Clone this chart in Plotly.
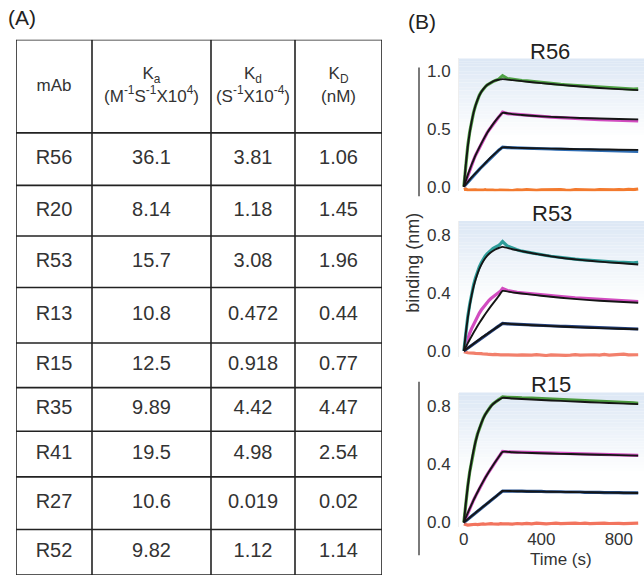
import plotly.graph_objects as go

# ---------------- table data ----------------
HEADERS = ["mAb",
           "K<sub>a</sub><br>(M<sup>-1</sup>S<sup>-1</sup>X10<sup>4</sup>)",
           "K<sub>d</sub><br>(S<sup>-1</sup>X10<sup>-4</sup>)",
           "K<sub>D</sub><br>(nM)"]
MABS = ["R56", "R20", "R53", "R13", "R15", "R35", "R41", "R27", "R52"]
KA = ["36.1", "8.14", "15.7", "10.8", "12.5", "9.89", "19.5", "10.6", "9.82"]
KD = ["3.81", "1.18", "3.08", "0.472", "0.918", "4.42", "4.98", "0.019", "1.12"]
KDISS = ["1.06", "1.45", "1.96", "0.44", "0.77", "4.47", "2.54", "0.02", "1.14"]

# ---------------- sensorgram data ----------------
T = [0, 10, 20, 30, 40, 50, 60, 70, 80, 90, 100, 110, 120, 130, 140, 150, 160, 170, 180, 190, 200,
     225, 250, 275, 300, 325, 350, 375, 400, 425, 450, 475, 500, 525, 550, 575, 600, 625, 650, 675,
     700, 725, 750, 775, 800, 825, 850, 875, 900]
T_FIT = [0, 10, 20, 30, 40, 50, 60, 80, 100, 120, 140, 160, 180, 200, 250, 300, 400, 500, 600, 700, 800, 900]

R56_GREEN = [0, 0.20, 0.35, 0.47, 0.565, 0.64, 0.70, 0.75, 0.79, 0.82, 0.845, 0.862, 0.878, 0.89, 0.90, 0.908, 0.915, 0.92, 0.93, 0.945, 0.96,
             0.935, 0.928, 0.925, 0.918, 0.915, 0.91, 0.904, 0.90, 0.896, 0.892, 0.889, 0.884, 0.881, 0.878, 0.874, 0.871, 0.868, 0.866, 0.862, 0.86, 0.857, 0.855, 0.852, 0.85, 0.848, 0.846, 0.843, 0.845]
R56_GREEN_FIT = [0, 0.19, 0.343, 0.464, 0.561, 0.638, 0.70, 0.788, 0.843, 0.879, 0.90, 0.916, 0.924, 0.93, 0.921, 0.912, 0.895, 0.88, 0.866, 0.853, 0.843, 0.835]
R56_MAGENTA = [0, 0.05, 0.10, 0.145, 0.19, 0.23, 0.27, 0.305, 0.34, 0.375, 0.405, 0.435, 0.465, 0.49, 0.515, 0.54, 0.562, 0.583, 0.603, 0.622, 0.645,
               0.632, 0.628, 0.625, 0.62, 0.618, 0.614, 0.61, 0.608, 0.604, 0.602, 0.60, 0.597, 0.595, 0.592, 0.59, 0.588, 0.586, 0.584, 0.582, 0.58, 0.579, 0.577, 0.575, 0.574, 0.572, 0.571, 0.57, 0.568]
R56_MAGENTA_FIT = [0, 0.05, 0.10, 0.145, 0.19, 0.23, 0.27, 0.34, 0.405, 0.465, 0.515, 0.562, 0.603, 0.638, 0.627, 0.62, 0.608, 0.60, 0.594, 0.589, 0.585, 0.582]
R56_BLUE = [0, 0.02, 0.04, 0.06, 0.08, 0.098, 0.115, 0.133, 0.15, 0.168, 0.185, 0.203, 0.22, 0.238, 0.255, 0.27, 0.285, 0.30, 0.315, 0.328, 0.342,
            0.338, 0.336, 0.335, 0.333, 0.332, 0.331, 0.33, 0.328, 0.327, 0.326, 0.325, 0.324, 0.323, 0.322, 0.32, 0.319, 0.318, 0.317, 0.316, 0.315, 0.314, 0.313, 0.312, 0.311, 0.31, 0.309, 0.308, 0.306]
R56_BLUE_FIT = [0, 0.02, 0.04, 0.06, 0.08, 0.098, 0.115, 0.15, 0.185, 0.22, 0.255, 0.285, 0.315, 0.34, 0.337, 0.335, 0.331, 0.328, 0.325, 0.322, 0.32, 0.318]
R56_ORANGE = [-0.025, -0.02, -0.03, -0.028, -0.032, -0.03, -0.027, -0.03, -0.033, -0.029, -0.03, -0.026, -0.03, -0.032, -0.028, -0.03, -0.031, -0.027, -0.03, -0.029, -0.03,
              -0.031, -0.033, -0.027, -0.03, -0.024, -0.029, -0.032, -0.028, -0.026, -0.03, -0.027, -0.025, -0.029, -0.031, -0.026, -0.028, -0.025, -0.027, -0.03, -0.026, -0.028, -0.024, -0.027, -0.025, -0.028, -0.022, -0.025, -0.02]

R53_TEAL = [0, 0.13, 0.235, 0.32, 0.395, 0.455, 0.505, 0.548, 0.582, 0.61, 0.635, 0.655, 0.672, 0.686, 0.698, 0.708, 0.716, 0.722, 0.73, 0.742, 0.757,
            0.725, 0.71, 0.70, 0.69, 0.683, 0.676, 0.67, 0.665, 0.66, 0.655, 0.65, 0.646, 0.642, 0.638, 0.635, 0.632, 0.629, 0.626, 0.624, 0.621, 0.619, 0.617, 0.615, 0.613, 0.612, 0.61, 0.609, 0.612]
R53_TEAL_FIT = [0, 0.123, 0.226, 0.31, 0.383, 0.442, 0.491, 0.567, 0.62, 0.657, 0.682, 0.70, 0.712, 0.72, 0.703, 0.69, 0.665, 0.645, 0.63, 0.618, 0.608, 0.598]
R53_MAGENTA = [0, 0.045, 0.085, 0.122, 0.155, 0.185, 0.213, 0.238, 0.262, 0.283, 0.302, 0.32, 0.336, 0.35, 0.363, 0.375, 0.386, 0.396, 0.405, 0.415, 0.432,
               0.418, 0.41, 0.405, 0.402, 0.398, 0.395, 0.39, 0.388, 0.385, 0.383, 0.38, 0.376, 0.374, 0.371, 0.368, 0.366, 0.364, 0.362, 0.358, 0.356, 0.354, 0.352, 0.35, 0.348, 0.346, 0.345, 0.343, 0.342]
R53_MAGENTA_FIT = [0, 0.027, 0.053, 0.078, 0.102, 0.126, 0.149, 0.193, 0.234, 0.273, 0.31, 0.345, 0.38, 0.415, 0.405, 0.397, 0.382, 0.368, 0.357, 0.347, 0.34, 0.333]
R53_NAVY = [0, 0.01, 0.02, 0.03, 0.04, 0.05, 0.06, 0.07, 0.08, 0.09, 0.10, 0.109, 0.118, 0.127, 0.136, 0.145, 0.154, 0.163, 0.172, 0.181, 0.19,
            0.188, 0.186, 0.185, 0.183, 0.182, 0.18, 0.178, 0.177, 0.176, 0.174, 0.173, 0.171, 0.17, 0.169, 0.167, 0.166, 0.165, 0.163, 0.162, 0.161, 0.16, 0.159, 0.158, 0.156, 0.155, 0.154, 0.153, 0.152]
R53_NAVY_FIT = [0, 0.01, 0.02, 0.03, 0.04, 0.05, 0.06, 0.08, 0.10, 0.118, 0.136, 0.154, 0.172, 0.19, 0.186, 0.182, 0.175, 0.169, 0.163, 0.158, 0.154, 0.15]
R53_ORANGE = [-0.005, -0.01, -0.012, -0.014, -0.012, -0.015, -0.017, -0.016, -0.019, -0.018, -0.021, -0.02, -0.022, -0.024, -0.022, -0.025, -0.024, -0.026, -0.025, -0.027, -0.026,
              -0.028, -0.026, -0.029, -0.027, -0.03, -0.028, -0.025, -0.029, -0.031, -0.027, -0.029, -0.026, -0.03, -0.028, -0.025, -0.029, -0.027, -0.03, -0.026, -0.028, -0.024, -0.028, -0.026, -0.029, -0.022, -0.027, -0.025, -0.026]

R15_GREEN = [0, 0.135, 0.248, 0.345, 0.425, 0.495, 0.553, 0.605, 0.647, 0.684, 0.715, 0.741, 0.763, 0.782, 0.799, 0.813, 0.825, 0.835, 0.843, 0.852, 0.862,
             0.858, 0.86, 0.857, 0.855, 0.856, 0.853, 0.851, 0.85, 0.848, 0.849, 0.846, 0.844, 0.843, 0.842, 0.84, 0.838, 0.837, 0.835, 0.834, 0.832, 0.83, 0.829, 0.827, 0.826, 0.824, 0.822, 0.82, 0.818]
R15_GREEN_FIT = [0, 0.132, 0.245, 0.342, 0.423, 0.493, 0.552, 0.645, 0.713, 0.761, 0.797, 0.823, 0.841, 0.855, 0.851, 0.847, 0.84, 0.834, 0.828, 0.822, 0.817, 0.812]
R15_MAGENTA = [0, 0.033, 0.064, 0.095, 0.124, 0.153, 0.18, 0.207, 0.233, 0.258, 0.282, 0.305, 0.328, 0.35, 0.371, 0.392, 0.411, 0.43, 0.449, 0.467, 0.487,
               0.484, 0.483, 0.482, 0.481, 0.48, 0.479, 0.478, 0.477, 0.476, 0.476, 0.475, 0.474, 0.473, 0.472, 0.471, 0.47, 0.47, 0.469, 0.468, 0.467, 0.466, 0.465, 0.465, 0.464, 0.463, 0.462, 0.461, 0.46]
R15_MAGENTA_FIT = [0, 0.033, 0.064, 0.095, 0.124, 0.153, 0.18, 0.233, 0.282, 0.328, 0.371, 0.411, 0.449, 0.485, 0.482, 0.479, 0.475, 0.471, 0.468, 0.465, 0.462, 0.459]
R15_BLUE = [0, 0.011, 0.022, 0.033, 0.044, 0.055, 0.066, 0.077, 0.088, 0.098, 0.109, 0.12, 0.13, 0.141, 0.152, 0.162, 0.173, 0.184, 0.195, 0.205, 0.216,
            0.215, 0.216, 0.214, 0.215, 0.213, 0.214, 0.212, 0.213, 0.211, 0.212, 0.21, 0.211, 0.209, 0.21, 0.208, 0.209, 0.207, 0.208, 0.206, 0.207, 0.205, 0.206, 0.204, 0.205, 0.203, 0.204, 0.202, 0.203]
R15_BLUE_FIT = [0, 0.011, 0.022, 0.033, 0.044, 0.055, 0.066, 0.088, 0.109, 0.13, 0.152, 0.173, 0.195, 0.216, 0.215, 0.214, 0.212, 0.21, 0.208, 0.206, 0.204, 0.202]
R15_ORANGE = [-0.01, -0.015, -0.018, -0.016, -0.014, -0.017, -0.012, -0.014, -0.011, -0.013, -0.01, -0.012, -0.009, -0.011, -0.008, -0.01, -0.012, -0.009, -0.011, -0.008, -0.01,
              -0.009, -0.011, -0.007, -0.01, -0.006, -0.009, -0.005, -0.008, -0.01, -0.007, -0.004, -0.008, -0.006, -0.009, -0.005, -0.007, -0.004, -0.008, -0.006, -0.009, -0.005, -0.007, -0.004, -0.006, -0.008, -0.005, -0.007, -0.004]

PANEL_TITLES = ["R56", "R53", "R15"]
Y_TICKS = [[0.0, 0.5, 1.0], [0.0, 0.4, 0.8], [0.0, 0.4, 0.8]]
X_TICKS = [0, 400, 800]

# ---------------- layout helpers ----------------
W, H = 644, 584
FONT = "Liberation Sans, Arial, sans-serif"
TXT = "#333333"


def px_x(x):
    return x / W


def px_y(y):
    return 1 - y / H


fig = go.Figure()
shapes = []
annotations = []

# ---------------- table (drawn on a hidden axis in pixel-like units) ----------------
COL_WIDTHS = [76, 119, 84, 87]
ROW_HEIGHTS = [94, 53, 51, 52, 56, 45, 44, 46, 53, 46]
col_edges = [0]
for w in COL_WIDTHS:
    col_edges.append(col_edges[-1] + w)
row_edges = [0]
for h in ROW_HEIGHTS:
    row_edges.append(row_edges[-1] + h)
TW, TH = col_edges[-1], row_edges[-1]

col_centers = [(col_edges[i] + col_edges[i + 1]) / 2 for i in range(len(COL_WIDTHS))]
row_centers = [(row_edges[i] + row_edges[i + 1]) / 2 for i in range(len(ROW_HEIGHTS))]

columns = [MABS, KA, KD, KDISS]
fig.add_trace(go.Scatter(x=col_centers, y=[row_centers[0]] * 4, text=HEADERS, mode="text",
                         xaxis="x4", yaxis="y4", textposition="middle center", cliponaxis=False,
                         textfont=dict(family=FONT, size=17, color=TXT), showlegend=False, hoverinfo="skip"))
bx, by, bt = [], [], []
for c, col in enumerate(columns):
    for r, val in enumerate(col):
        bx.append(col_centers[c])
        by.append(row_centers[r + 1])
        bt.append(val)
fig.add_trace(go.Scatter(x=bx, y=by, text=bt, mode="text", xaxis="x4", yaxis="y4",
                         textposition="middle center", cliponaxis=False,
                         textfont=dict(family=FONT, size=20, color=TXT), showlegend=False, hoverinfo="skip"))
for xe in col_edges:
    shapes.append(dict(type="line", xref="x4", yref="y4", x0=xe, x1=xe, y0=0, y1=TH,
                       line=dict(color="#222222", width=1.6)))
for ye in row_edges:
    shapes.append(dict(type="line", xref="x4", yref="y4", x0=0, x1=TW, y0=ye, y1=ye,
                       line=dict(color="#222222", width=1.6)))

fig.update_layout(
    xaxis4=dict(domain=[px_x(16), px_x(382)], range=[0, TW], visible=False, anchor="y4", fixedrange=True),
    yaxis4=dict(domain=[px_y(580), px_y(40)], range=[TH, 0], visible=False, anchor="x4", fixedrange=True),
)

# ---------------- sensorgram panels ----------------
panels = [
    dict(series=[(R56_ORANGE, "#f37a2e"), (R56_BLUE, "#2f6db3"), (R56_MAGENTA, "#d24cc0"), (R56_GREEN, "#4fa245")],
         fits=[R56_BLUE_FIT, R56_MAGENTA_FIT, R56_GREEN_FIT],
         ydom=[px_y(193), px_y(59)], yrange=[-0.04, 1.108]),
    dict(series=[(R53_ORANGE, "#f2806c"), (R53_NAVY, "#22407e"), (R53_MAGENTA, "#d24cc0"), (R53_TEAL, "#2e9d9a")],
         fits=[R53_NAVY_FIT, R53_MAGENTA_FIT, R53_TEAL_FIT],
         ydom=[px_y(360), px_y(223)], yrange=[-0.041, 0.898]),
    dict(series=[(R15_ORANGE, "#f2745e"), (R15_BLUE, "#25508f"), (R15_MAGENTA, "#d24cc0"), (R15_GREEN, "#4b9a3e")],
         fits=[R15_BLUE_FIT, R15_MAGENTA_FIT, R15_GREEN_FIT],
         ydom=[px_y(532), px_y(396)], yrange=[-0.034, 0.891]),
]

for i, p in enumerate(panels):
    n = i + 1
    xa = "x" if n == 1 else f"x{n}"
    ya = "y" if n == 1 else f"y{n}"
    for ys, col in p["series"]:
        fig.add_trace(go.Scatter(x=T, y=ys, mode="lines", xaxis=xa, yaxis=ya,
                                 line=dict(color=col, width=3.2), showlegend=False, hoverinfo="skip"))
    for ys in p["fits"]:
        fig.add_trace(go.Scatter(x=T_FIT, y=ys, mode="lines", xaxis=xa, yaxis=ya,
                                 line=dict(color="#151515", width=1.9, shape="spline", smoothing=0.6),
                                 showlegend=False, hoverinfo="skip"))
    last = (n == 3)
    fig.update_layout(**{
        ("xaxis" if n == 1 else f"xaxis{n}"): dict(
            domain=[px_x(459), 1.0], range=[-25, 930], anchor=ya,
            showgrid=False, zeroline=False, showline=False,
            tickvals=X_TICKS, showticklabels=last, ticks="",
            tickfont=dict(family=FONT, size=17, color=TXT)),
        ("yaxis" if n == 1 else f"yaxis{n}"): dict(
            domain=p["ydom"], range=p["yrange"], anchor=xa,
            showgrid=False, zeroline=False, showline=True, linecolor="#eeeeee", linewidth=1,
            tickvals=Y_TICKS[i], tickformat=".1f", ticks="outside", ticklen=4,
            tickcolor="rgba(0,0,0,0)",
            tickfont=dict(family=FONT, size=17, color=TXT)),
    })
    nb = 30
    for b in range(nb):
        f = b / (nb - 1)
        r = int(221 + (255 - 221) * f)
        g = int(232 + (255 - 232) * f)
        bl = int(245 + (255 - 245) * f)
        shapes.append(dict(type="rect", xref=f"{xa} domain", yref=f"{ya} domain",
                           x0=0, x1=1, y0=1 - (b + 1) * 0.02, y1=1 - b * 0.02,
                           fillcolor=f"rgb({r},{g},{bl})", line=dict(width=0), layer="below"))

for title, (cx, cy) in zip(PANEL_TITLES, [(550, 52), (552, 215), (551, 388)]):
    annotations.append(dict(text=title, x=px_x(cx), y=px_y(cy), xref="paper", yref="paper",
                            showarrow=False, xanchor="center", yanchor="middle",
                            font=dict(family=FONT, size=22, color="#222222")))

annotations += [
    dict(text="(A)", x=px_x(6), y=px_y(18), xref="paper", yref="paper", showarrow=False,
         xanchor="left", yanchor="middle", font=dict(family=FONT, size=21, color="#222222")),
    dict(text="(B)", x=px_x(406), y=px_y(22), xref="paper", yref="paper", showarrow=False,
         xanchor="left", yanchor="middle", font=dict(family=FONT, size=21, color="#222222")),
    dict(text="binding (nm)", x=px_x(413), y=px_y(265), xref="paper", yref="paper", showarrow=False,
         textangle=-90, xanchor="center", yanchor="middle", font=dict(family=FONT, size=18, color=TXT)),
    dict(text="Time (s)", x=px_x(561), y=px_y(564), xref="paper", yref="paper", showarrow=False,
         xanchor="center", yanchor="middle", font=dict(family=FONT, size=17, color=TXT)),
]

for y0, y1 in [(68, 198), (385, 560)]:
    shapes.append(dict(type="line", xref="paper", yref="paper", x0=px_x(419), x1=px_x(419),
                       y0=px_y(y0), y1=px_y(y1), line=dict(color="#7a7a7a", width=2)))

fig.update_layout(
    width=W, height=H, margin=dict(l=0, r=0, t=0, b=0),
    paper_bgcolor="white", plot_bgcolor="white",
    font=dict(family=FONT, color=TXT),
    showlegend=False, shapes=shapes, annotations=annotations,
)

fig.write_html("out.html", config={"displayModeBar": False},
               post_script="document.body.style.margin='0px';")
